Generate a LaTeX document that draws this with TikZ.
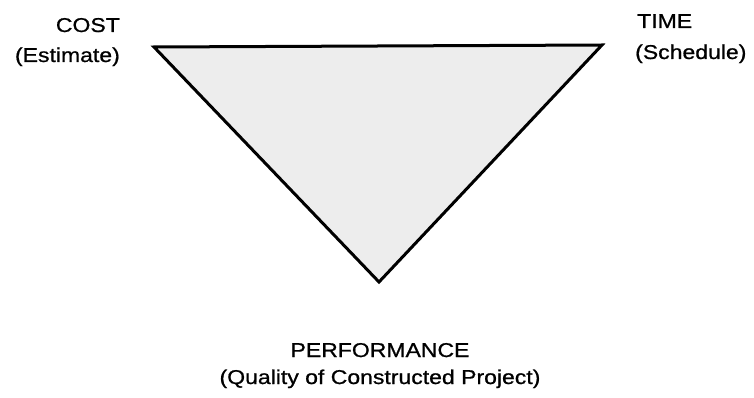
\documentclass[tikz,border=0pt]{standalone}
\usepackage{fontspec}
\setmainfont{Liberation Sans}[FakeStretch=1.15,FakeBold=0.8]
\begin{document}
\begin{tikzpicture}[x=1pt,y=-1pt,
  lbl/.style={inner sep=0pt,font=\fontsize{20}{24}\selectfont},
  tri/.style={draw=black,line width=3pt,line join=miter,fill=black!7}]
\useasboundingbox (0,0) rectangle (754,398);
\coordinate (A) at (154,47);
\coordinate (B) at (602,45);
\coordinate (C) at (379,282);
\filldraw[tri] (A) -- (B) -- (C) -- cycle;
\node[lbl,anchor=base east] (cost) at (120,32) {COST};
\node[lbl,anchor=base east] (est) at (120,62) {(Estimate)};
\node[lbl,anchor=base west] (time) at (637,28) {TIME};
\node[lbl,anchor=base west] (sched) at (635,59) {(Schedule)};
\node[lbl,anchor=base] (perf) at (380,357) {PERFORMANCE};
\node[lbl,anchor=base] (qual) at (380,384) {(Quality of Constructed Project)};
\end{tikzpicture}
\end{document}
